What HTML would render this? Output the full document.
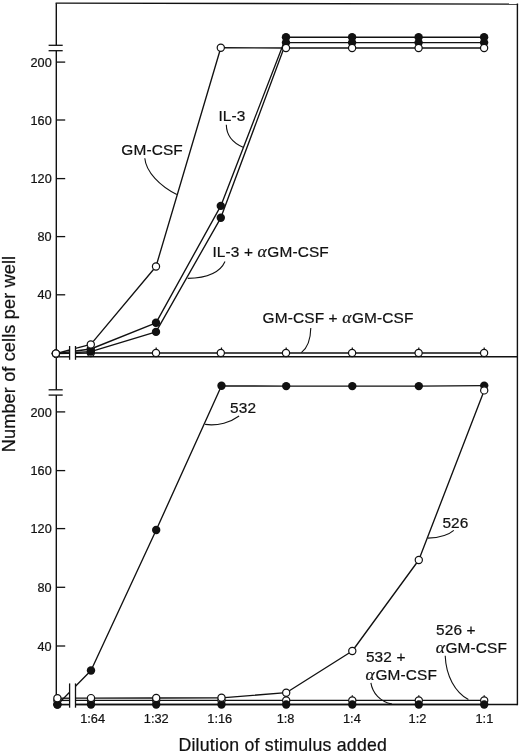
<!DOCTYPE html>
<html><head><meta charset="utf-8"><style>
html,body{margin:0;padding:0;background:#fff;}
svg{display:block;will-change:transform;}
text{font-family:"Liberation Sans",sans-serif;fill:#111;stroke:#111;stroke-width:0.22px;}
.tk{font-size:12.7px;}
.xt{font-size:12.8px;}
.lb{font-size:15.4px;letter-spacing:0.15px;}
.ax{font-size:18.2px;}
.ay{letter-spacing:0.1px;}
.al{font-family:"Liberation Serif",serif;font-style:italic;font-size:17.5px;letter-spacing:0.6px;}
</style></head><body>
<svg width="520" height="753" viewBox="0 0 520 753">
<line x1="55.599999999999994" y1="3.1" x2="518.1" y2="4.1" stroke="#111" stroke-width="1.4"/>
<line x1="517.4" y1="3.4" x2="517.4" y2="705.2" stroke="#111" stroke-width="1.4"/>
<line x1="56.3" y1="3.2" x2="56.3" y2="45.3" stroke="#111" stroke-width="1.4"/>
<line x1="56.3" y1="50.7" x2="56.3" y2="356.8" stroke="#111" stroke-width="1.4"/>
<line x1="56.3" y1="356.8" x2="56.3" y2="389.8" stroke="#111" stroke-width="1.4"/>
<line x1="56.3" y1="395.1" x2="56.3" y2="704.5" stroke="#111" stroke-width="1.4"/>
<line x1="48.6" y1="45.3" x2="62.7" y2="45.3" stroke="#111" stroke-width="1.3"/>
<line x1="48.6" y1="50.7" x2="62.7" y2="50.7" stroke="#111" stroke-width="1.3"/>
<line x1="48.6" y1="389.8" x2="62.7" y2="389.8" stroke="#111" stroke-width="1.3"/>
<line x1="48.6" y1="395.1" x2="62.7" y2="395.1" stroke="#111" stroke-width="1.3"/>
<line x1="56.3" y1="356.8" x2="69.6" y2="356.8" stroke="#111" stroke-width="1.4"/>
<line x1="75.5" y1="356.8" x2="517.4" y2="356.8" stroke="#111" stroke-width="1.4"/>
<line x1="56.3" y1="704.5" x2="69.6" y2="704.5" stroke="#111" stroke-width="1.4"/>
<line x1="75.5" y1="704.5" x2="517.4" y2="704.5" stroke="#111" stroke-width="1.4"/>
<line x1="69.6" y1="346" x2="69.6" y2="359.8" stroke="#111" stroke-width="1.3"/>
<line x1="75.5" y1="346" x2="75.5" y2="359.8" stroke="#111" stroke-width="1.3"/>
<line x1="69.6" y1="683.4" x2="69.6" y2="707.7" stroke="#111" stroke-width="1.3"/>
<line x1="75.5" y1="683.4" x2="75.5" y2="707.7" stroke="#111" stroke-width="1.3"/>
<line x1="56.3" y1="62.1" x2="65.2" y2="62.1" stroke="#111" stroke-width="1.3"/>
<text x="51.7" y="66.7" class="tk" text-anchor="end">200</text>
<line x1="56.3" y1="120.0" x2="65.2" y2="120.0" stroke="#111" stroke-width="1.3"/>
<text x="51.7" y="124.6" class="tk" text-anchor="end">160</text>
<line x1="56.3" y1="178.6" x2="65.2" y2="178.6" stroke="#111" stroke-width="1.3"/>
<text x="51.7" y="183.2" class="tk" text-anchor="end">120</text>
<line x1="56.3" y1="236.6" x2="65.2" y2="236.6" stroke="#111" stroke-width="1.3"/>
<text x="51.7" y="241.2" class="tk" text-anchor="end">80</text>
<line x1="56.3" y1="294.8" x2="65.2" y2="294.8" stroke="#111" stroke-width="1.3"/>
<text x="51.7" y="299.4" class="tk" text-anchor="end">40</text>
<line x1="56.3" y1="411.9" x2="65.2" y2="411.9" stroke="#111" stroke-width="1.3"/>
<text x="51.7" y="416.5" class="tk" text-anchor="end">200</text>
<line x1="56.3" y1="470.6" x2="65.2" y2="470.6" stroke="#111" stroke-width="1.3"/>
<text x="51.7" y="475.2" class="tk" text-anchor="end">160</text>
<line x1="56.3" y1="528.6" x2="65.2" y2="528.6" stroke="#111" stroke-width="1.3"/>
<text x="51.7" y="533.2" class="tk" text-anchor="end">120</text>
<line x1="56.3" y1="587.3" x2="65.2" y2="587.3" stroke="#111" stroke-width="1.3"/>
<text x="51.7" y="591.9" class="tk" text-anchor="end">80</text>
<line x1="56.3" y1="646.0" x2="65.2" y2="646.0" stroke="#111" stroke-width="1.3"/>
<text x="51.7" y="650.6" class="tk" text-anchor="end">40</text>
<line x1="91.0" y1="356.8" x2="91.0" y2="347.5" stroke="#111" stroke-width="1.2"/>
<line x1="156.2" y1="356.8" x2="156.2" y2="347.5" stroke="#111" stroke-width="1.2"/>
<line x1="221.5" y1="356.8" x2="221.5" y2="347.5" stroke="#111" stroke-width="1.2"/>
<line x1="286.2" y1="356.8" x2="286.2" y2="347.5" stroke="#111" stroke-width="1.2"/>
<line x1="352.3" y1="356.8" x2="352.3" y2="347.5" stroke="#111" stroke-width="1.2"/>
<line x1="418.8" y1="356.8" x2="418.8" y2="347.5" stroke="#111" stroke-width="1.2"/>
<line x1="484.2" y1="356.8" x2="484.2" y2="347.5" stroke="#111" stroke-width="1.2"/>
<line x1="91.0" y1="704.5" x2="91.0" y2="695.2" stroke="#111" stroke-width="1.2"/>
<line x1="156.2" y1="704.5" x2="156.2" y2="695.2" stroke="#111" stroke-width="1.2"/>
<line x1="221.5" y1="704.5" x2="221.5" y2="695.2" stroke="#111" stroke-width="1.2"/>
<line x1="286.2" y1="704.5" x2="286.2" y2="695.2" stroke="#111" stroke-width="1.2"/>
<line x1="352.3" y1="704.5" x2="352.3" y2="695.2" stroke="#111" stroke-width="1.2"/>
<line x1="418.8" y1="704.5" x2="418.8" y2="695.2" stroke="#111" stroke-width="1.2"/>
<line x1="484.2" y1="704.5" x2="484.2" y2="695.2" stroke="#111" stroke-width="1.2"/>
<text x="80.2" y="722.5" class="xt">1:64</text>
<text x="143.8" y="722.5" class="xt">1:32</text>
<text x="207.3" y="722.5" class="xt">1:16</text>
<text x="276.7" y="722.5" class="xt">1:8</text>
<text x="343.0" y="722.5" class="xt">1:4</text>
<text x="408.6" y="722.5" class="xt">1:2</text>
<text x="475.5" y="722.5" class="xt">1:1</text>
<polyline points="55.9,353.6 69.6,353.4" fill="none" stroke="#111" stroke-width="1.35" stroke-linejoin="round"/>
<polyline points="75.5,353.3 90.8,353.0 156.0,353.0 220.8,353.0 286.0,353.0 352.1,353.0 418.6,353.0 484.1,353.0" fill="none" stroke="#111" stroke-width="1.35" stroke-linejoin="round"/>
<polyline points="55.9,353.6 69.6,352.8" fill="none" stroke="#111" stroke-width="1.35" stroke-linejoin="round"/>
<polyline points="75.5,352.5 90.8,351.6 156.0,331.9 220.8,217.8 286.0,42.6 352.1,42.6 418.6,42.6 484.1,42.6" fill="none" stroke="#111" stroke-width="1.35" stroke-linejoin="round"/>
<polyline points="55.9,353.6 69.6,351.8" fill="none" stroke="#111" stroke-width="1.35" stroke-linejoin="round"/>
<polyline points="75.5,351.0 90.8,349.0 156.0,322.8 220.8,205.9 286.0,37.2 352.1,37.2 418.6,37.2 484.1,37.2" fill="none" stroke="#111" stroke-width="1.35" stroke-linejoin="round"/>
<polyline points="55.9,353.6 69.6,350.0" fill="none" stroke="#111" stroke-width="1.35" stroke-linejoin="round"/>
<polyline points="75.5,348.4 90.8,344.4 156.0,266.5 220.8,47.7 286.0,48.0 352.1,48.0 418.6,48.0 484.1,48.0" fill="none" stroke="#111" stroke-width="1.35" stroke-linejoin="round"/>
<polyline points="57.4,704.6 69.6,704.6" fill="none" stroke="#111" stroke-width="1.35" stroke-linejoin="round"/>
<polyline points="75.5,704.5 91.0,704.5 156.2,704.5 221.5,704.5 286.2,704.5 352.3,704.5 418.8,704.5 484.2,704.5" fill="none" stroke="#111" stroke-width="1.35" stroke-linejoin="round"/>
<polyline points="57.4,700.4 69.6,700.4" fill="none" stroke="#111" stroke-width="1.35" stroke-linejoin="round"/>
<polyline points="75.5,700.4 91.0,700.4 156.2,700.4 221.5,700.4 286.2,700.4 352.3,700.4 418.8,700.4 484.2,700.4" fill="none" stroke="#111" stroke-width="1.35" stroke-linejoin="round"/>
<polyline points="57.4,698.2 69.6,698.2" fill="none" stroke="#111" stroke-width="1.35" stroke-linejoin="round"/>
<polyline points="75.5,698.1 91.0,698.1 156.2,698.0 221.5,697.8 286.2,692.7 352.3,651.0 418.8,560.0 484.2,390.4" fill="none" stroke="#111" stroke-width="1.35" stroke-linejoin="round"/>
<polyline points="57.4,704.6 69.6,692.2" fill="none" stroke="#111" stroke-width="1.35" stroke-linejoin="round"/>
<polyline points="75.5,686.2 91.0,670.5 156.2,530.0 221.5,385.8 286.2,386.1 352.3,386.1 418.8,386.1 484.2,385.6" fill="none" stroke="#111" stroke-width="1.35" stroke-linejoin="round"/>
<circle cx="55.9" cy="353.6" r="3.6" fill="#fff" stroke="#111" stroke-width="1.2"/>
<circle cx="90.8" cy="353.0" r="3.6" fill="#fff" stroke="#111" stroke-width="1.2"/>
<circle cx="156.0" cy="353.0" r="3.6" fill="#fff" stroke="#111" stroke-width="1.2"/>
<circle cx="220.8" cy="353.0" r="3.6" fill="#fff" stroke="#111" stroke-width="1.2"/>
<circle cx="286.0" cy="353.0" r="3.6" fill="#fff" stroke="#111" stroke-width="1.2"/>
<circle cx="352.1" cy="353.0" r="3.6" fill="#fff" stroke="#111" stroke-width="1.2"/>
<circle cx="418.6" cy="353.0" r="3.6" fill="#fff" stroke="#111" stroke-width="1.2"/>
<circle cx="484.1" cy="353.0" r="3.6" fill="#fff" stroke="#111" stroke-width="1.2"/>
<circle cx="55.9" cy="353.6" r="4.2" fill="#111"/>
<circle cx="90.8" cy="351.6" r="4.2" fill="#111"/>
<circle cx="156.0" cy="331.9" r="4.2" fill="#111"/>
<circle cx="220.8" cy="217.8" r="4.2" fill="#111"/>
<circle cx="286.0" cy="42.6" r="4.2" fill="#111"/>
<circle cx="352.1" cy="42.6" r="4.2" fill="#111"/>
<circle cx="418.6" cy="42.6" r="4.2" fill="#111"/>
<circle cx="484.1" cy="42.6" r="4.2" fill="#111"/>
<circle cx="55.9" cy="353.6" r="4.2" fill="#111"/>
<circle cx="90.8" cy="349.0" r="4.2" fill="#111"/>
<circle cx="156.0" cy="322.8" r="4.2" fill="#111"/>
<circle cx="220.8" cy="205.9" r="4.2" fill="#111"/>
<circle cx="286.0" cy="37.2" r="4.2" fill="#111"/>
<circle cx="352.1" cy="37.2" r="4.2" fill="#111"/>
<circle cx="418.6" cy="37.2" r="4.2" fill="#111"/>
<circle cx="484.1" cy="37.2" r="4.2" fill="#111"/>
<circle cx="55.9" cy="353.6" r="3.6" fill="#fff" stroke="#111" stroke-width="1.2"/>
<circle cx="90.8" cy="344.4" r="3.6" fill="#fff" stroke="#111" stroke-width="1.2"/>
<circle cx="156.0" cy="266.5" r="3.6" fill="#fff" stroke="#111" stroke-width="1.2"/>
<circle cx="220.8" cy="47.7" r="3.6" fill="#fff" stroke="#111" stroke-width="1.2"/>
<circle cx="286.0" cy="48.0" r="3.6" fill="#fff" stroke="#111" stroke-width="1.2"/>
<circle cx="352.1" cy="48.0" r="3.6" fill="#fff" stroke="#111" stroke-width="1.2"/>
<circle cx="418.6" cy="48.0" r="3.6" fill="#fff" stroke="#111" stroke-width="1.2"/>
<circle cx="484.1" cy="48.0" r="3.6" fill="#fff" stroke="#111" stroke-width="1.2"/>
<circle cx="57.4" cy="700.4" r="3.6" fill="#fff" stroke="#111" stroke-width="1.2"/>
<circle cx="91.0" cy="700.4" r="3.6" fill="#fff" stroke="#111" stroke-width="1.2"/>
<circle cx="156.2" cy="700.4" r="3.6" fill="#fff" stroke="#111" stroke-width="1.2"/>
<circle cx="221.5" cy="700.4" r="3.6" fill="#fff" stroke="#111" stroke-width="1.2"/>
<circle cx="286.2" cy="700.4" r="3.6" fill="#fff" stroke="#111" stroke-width="1.2"/>
<circle cx="352.3" cy="700.4" r="3.6" fill="#fff" stroke="#111" stroke-width="1.2"/>
<circle cx="418.8" cy="700.4" r="3.6" fill="#fff" stroke="#111" stroke-width="1.2"/>
<circle cx="484.2" cy="700.4" r="3.6" fill="#fff" stroke="#111" stroke-width="1.2"/>
<circle cx="57.4" cy="704.6" r="4.2" fill="#111"/>
<circle cx="91.0" cy="704.5" r="4.2" fill="#111"/>
<circle cx="156.2" cy="704.5" r="4.2" fill="#111"/>
<circle cx="221.5" cy="704.5" r="4.2" fill="#111"/>
<circle cx="286.2" cy="704.5" r="4.2" fill="#111"/>
<circle cx="352.3" cy="704.5" r="4.2" fill="#111"/>
<circle cx="418.8" cy="704.5" r="4.2" fill="#111"/>
<circle cx="484.2" cy="704.5" r="4.2" fill="#111"/>
<circle cx="57.4" cy="704.6" r="4.2" fill="#111"/>
<circle cx="91.0" cy="670.5" r="4.2" fill="#111"/>
<circle cx="156.2" cy="530.0" r="4.2" fill="#111"/>
<circle cx="221.5" cy="385.8" r="4.2" fill="#111"/>
<circle cx="286.2" cy="386.1" r="4.2" fill="#111"/>
<circle cx="352.3" cy="386.1" r="4.2" fill="#111"/>
<circle cx="418.8" cy="386.1" r="4.2" fill="#111"/>
<circle cx="484.2" cy="385.6" r="4.2" fill="#111"/>
<circle cx="57.4" cy="698.2" r="3.6" fill="#fff" stroke="#111" stroke-width="1.2"/>
<circle cx="91.0" cy="698.1" r="3.6" fill="#fff" stroke="#111" stroke-width="1.2"/>
<circle cx="156.2" cy="698.0" r="3.6" fill="#fff" stroke="#111" stroke-width="1.2"/>
<circle cx="221.5" cy="697.8" r="3.6" fill="#fff" stroke="#111" stroke-width="1.2"/>
<circle cx="286.2" cy="692.7" r="3.6" fill="#fff" stroke="#111" stroke-width="1.2"/>
<circle cx="352.3" cy="651.0" r="3.6" fill="#fff" stroke="#111" stroke-width="1.2"/>
<circle cx="418.8" cy="560.0" r="3.6" fill="#fff" stroke="#111" stroke-width="1.2"/>
<circle cx="484.2" cy="390.4" r="3.6" fill="#fff" stroke="#111" stroke-width="1.2"/>
<path d="M144.8,158.2 C146,172 160,186 176.8,194.5" fill="none" stroke="#111" stroke-width="1.1"/>
<path d="M226.3,124.8 C226.5,136 233,143 243.1,147.3" fill="none" stroke="#111" stroke-width="1.1"/>
<path d="M225,261.5 C220,273 205,278 187.7,278.4" fill="none" stroke="#111" stroke-width="1.1"/>
<path d="M310.8,328.0 C310.6,338 307.5,348 301.3,352.6" fill="none" stroke="#111" stroke-width="1.1"/>
<path d="M239.1,416.0 C231,422 218,426.3 205.1,424.4" fill="none" stroke="#111" stroke-width="1.1"/>
<path d="M453.8,530.4 C448,535.5 438,537.8 428.0,538.1" fill="none" stroke="#111" stroke-width="1.1"/>
<path d="M370.9,682.8 C372.5,693 380,701.5 392,704.0" fill="none" stroke="#111" stroke-width="1.1"/>
<path d="M445.2,655.8 C446,676 455,692 468.4,699.6" fill="none" stroke="#111" stroke-width="1.1"/>
<text x="121.3" y="155.3" class="lb">GM-CSF</text>
<text x="218.4" y="121.3" class="lb">IL-3</text>
<text x="212.4" y="256.6" class="lb">IL-3 + <tspan class="al">α</tspan>GM-CSF</text>
<text x="262.6" y="323.1" class="lb">GM-CSF + <tspan class="al">α</tspan>GM-CSF</text>
<text x="230.1" y="413.0" class="lb">532</text>
<text x="442.4" y="527.5" class="lb">526</text>
<text x="365.9" y="661.6" class="lb">532 +</text>
<text x="365.6" y="679.6" class="lb"><tspan class="al">α</tspan>GM-CSF</text>
<text x="436.0" y="634.7" class="lb">526 +</text>
<text x="435.7" y="652.8" class="lb"><tspan class="al">α</tspan>GM-CSF</text>
<text x="178.4" y="750.9" class="ax" style="font-size:17.7px;letter-spacing:0.24px">Dilution of stimulus added</text>
<text transform="translate(15.3,452.3) rotate(-90)" class="ax ay">Number of cells per well</text>
</svg></body></html>
